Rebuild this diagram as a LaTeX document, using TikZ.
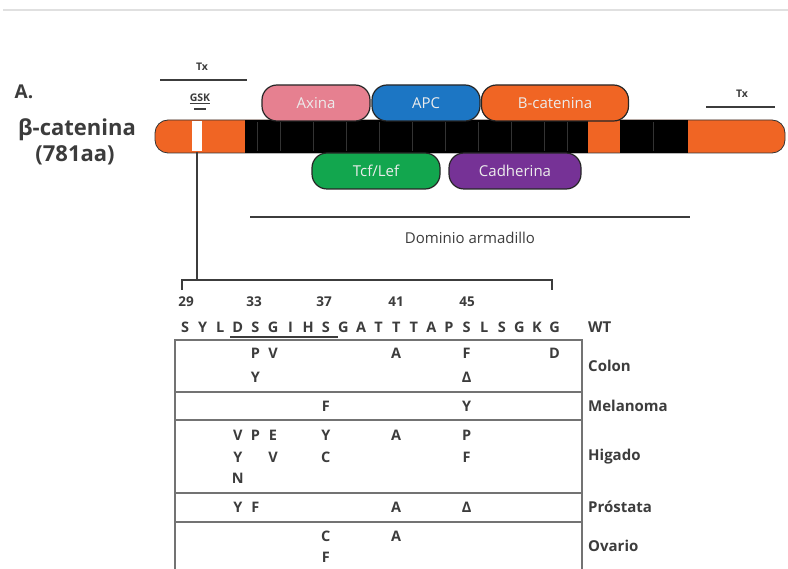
\documentclass[tikz,border=0pt]{standalone}
\usepackage{fontspec}
\setmainfont{Open Sans}
\usepackage{tikz}
\usetikzlibrary{positioning}
\definecolor{ctorange}{RGB}{240,101,36}
\definecolor{ctpink}{RGB}{230,128,144}
\definecolor{ctblue}{RGB}{28,118,196}
\definecolor{ctgreen}{RGB}{18,166,78}
\definecolor{ctpurple}{RGB}{118,50,150}
\definecolor{ctink}{RGB}{60,60,60}
\tikzstyle{pill} = [draw=black!85, line width=1.2pt, rounded corners=15pt, minimum height=36pt, inner sep=0pt, text=white!85!gray, font=\fontsize{15}{17}\selectfont]
\tikzstyle{seq} = [inner sep=0pt, text=ctink, font=\bfseries\fontsize{14.5}{16}\selectfont]
\tikzstyle{tag} = [inner sep=0pt, anchor=west, text=ctink, font=\bfseries\fontsize{15}{17}\selectfont]
\tikzstyle{small} = [inner sep=0pt, text=ctink, font=\bfseries\fontsize{10.5}{12}\selectfont]
\tikzstyle{rowline} = [draw=black!55, line width=1.6pt]

\begin{document}
\begin{tikzpicture}[x=1pt, y=-1pt]
    \useasboundingbox (0,0) rectangle (788,569);
    \draw[black!12, line width=2pt] (3,10) -- (788,10);

    % title
    \node[inner sep=0pt, text=ctink, font=\bfseries\fontsize{19}{21}\selectfont] (panel) at (24,92) {A.};
    \node[inner sep=0pt, text=ctink, font=\bfseries\fontsize{22}{24}\selectfont] (name) at (77,130) {β-catenina};
    \node[inner sep=0pt, text=ctink, font=\bfseries\fontsize{22}{24}\selectfont] (length) at (75,155) {(781aa)};

    % protein bar
    \draw[fill=ctorange, draw=black!80, line width=0.8pt, rounded corners=13pt] (155,120) rectangle (785,153);
    \fill[black] (245,120.4) rectangle (588,152.6);
    \fill[black] (620,120.4) rectangle (688,152.6);
    \foreach \x in {257,280,313,346,379,412,445,478,511,544,567}
        \draw[black!60!gray, line width=0.6pt] (\x,122) -- (\x,151);
    \draw[black!60!gray, line width=0.6pt] (653,122) -- (653,151);
    \node[fill=white, minimum width=10pt, minimum height=30pt, inner sep=0pt] (gsksite) at (197,136.5) {};

    % binding partners
    \node[pill, fill=ctpink, minimum width=108pt] (axina) at (316,103) {Axina};
    \node[pill, fill=ctblue, minimum width=108pt] (apc) at (426,103) {APC};
    \node[pill, fill=ctorange, minimum width=147pt] (bcat) at (555,103) {B-catenina};
    \node[pill, fill=ctgreen, minimum width=128pt] (tcf) at (376,171) {Tcf/Lef};
    \node[pill, fill=ctpurple, minimum width=132pt] (cad) at (515,171) {Cadherina};

    % Tx and GSK marks
    \node[small] (txleft) at (202,67) {Tx};
    \draw[ctink, line width=1.4pt] (160,80) -- (247,80);
    \node[small] (gsk) at (200,99) {\underline{GSK}};
    \draw[ctink, line width=1.4pt] (194,109) -- (206,109);
    \node[small] (txright) at (742,94) {Tx};
    \draw[ctink, line width=1.4pt] (706,107) -- (775,107);

    % armadillo domain
    \draw[ctink, line width=1.4pt] (250,217) -- (690,217);
    \node[inner sep=0pt, text=ctink, font=\fontsize{15}{17}\selectfont] (arm) at (470,238) {Dominio armadillo};

    % zoom into the GSK region
    \coordinate (brk) at (197,280);
    \draw[ctink, line width=1.4pt] (gsksite.south) -- (brk);
    \draw[ctink, line width=1.4pt] (182,290) -- (182,280) -- (552,280) -- (552,290);

    % residue numbers
    \foreach \n/\x in {29/186,33/254,37/324,41/396,45/467}
        \node[seq, font=\bfseries\fontsize{13.5}{15}\selectfont] (num\n) at (\x,302) {\n};

    % wild type sequence
    \foreach \l [count=\i from 0] in {S,Y,L,D,S,G,I,H,S,G,A,T,T,T,A,P,S,L,S,G,K,G}
        \node[seq] (wt\i) at ({185+17.6*\i},327) {\l};
    \draw[ctink, line width=1.2pt] (230,337) -- (338,337);
    \node[tag] (wt) at (588,327) {WT};

    % mutation table
    \draw[rowline] (175,569) -- (175,340) -- (582,340) -- (582,569);
    \foreach \y in {392,420,493,522}
        \draw[rowline] (175,\y) -- (582,\y);
    \node[tag] (colon) at (588,366) {Colon};
    \node[tag] (mel) at (588,406) {Melanoma};
    \node[tag] (hig) at (588,457) {Higado};
    \node[tag] (pros) at (588,507) {Próstata};
    \node[tag] (ova) at (588,546) {Ovario};

    \foreach \i/\y/\m in {4/353/P,5/353/V,12/353/A,16/353/F,21/353/D,4/377/Y,16/377/Δ,
                         8/406/F,16/406/Y,
                         3/435/V,4/435/P,5/435/E,8/435/Y,12/435/A,16/435/P,
                         3/457/Y,5/457/V,8/457/C,16/457/F,3/478/N,
                         3/507/Y,4/507/F,12/507/A,16/507/Δ,
                         8/536/C,12/536/A,8/557/F}
        \node[seq] at ({185+17.6*\i},\y) {\m};
\end{tikzpicture}
\end{document}
